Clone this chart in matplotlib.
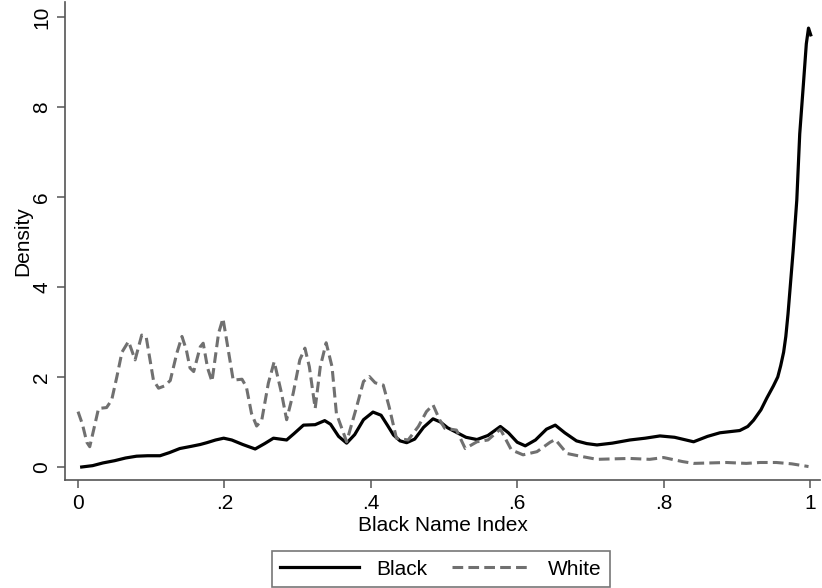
import matplotlib
matplotlib.use("Agg")
import matplotlib.pyplot as plt

plt.rcParams['font.family'] = ['Liberation Sans', 'DejaVu Sans']

# kernel density curves
black_x = [0.005, 0.02, 0.034, 0.05, 0.065, 0.08, 0.095, 0.112, 0.125, 0.139,
           0.155, 0.167, 0.176, 0.188, 0.199, 0.21, 0.225, 0.242, 0.255, 0.267,
           0.276, 0.285, 0.295, 0.308, 0.324, 0.337, 0.345, 0.356, 0.367, 0.378,
           0.39, 0.403, 0.414, 0.423, 0.431, 0.44, 0.449, 0.46, 0.472, 0.485,
           0.495, 0.505, 0.517, 0.53, 0.545, 0.56, 0.577, 0.588, 0.6, 0.611,
           0.625, 0.64, 0.652, 0.665, 0.681, 0.695, 0.709, 0.73, 0.754, 0.775,
           0.795, 0.815, 0.841, 0.86, 0.877, 0.904, 0.915, 0.923, 0.933, 0.941,
           0.95, 0.956, 0.960, 0.964, 0.967, 0.970, 0.973, 0.977, 0.982, 0.986,
           0.991, 0.995, 0.998, 1.001]
black_y = [0.0, 0.03, 0.09, 0.14, 0.2, 0.24, 0.25, 0.25, 0.32, 0.41,
           0.46, 0.5, 0.54, 0.6, 0.64, 0.6, 0.5, 0.4, 0.52, 0.64,
           0.62, 0.6, 0.74, 0.93, 0.94, 1.03, 0.95, 0.68, 0.53, 0.72,
           1.05, 1.22, 1.15, 0.92, 0.71, 0.58, 0.54, 0.62, 0.88, 1.07,
           1.0, 0.87, 0.77, 0.66, 0.61, 0.7, 0.9, 0.76, 0.55, 0.47,
           0.6, 0.84, 0.93, 0.76, 0.58, 0.52, 0.49, 0.53, 0.6, 0.64,
           0.69, 0.66, 0.56, 0.68, 0.76, 0.81, 0.9, 1.04, 1.27, 1.53,
           1.8, 2.0, 2.25, 2.55, 2.9, 3.4, 4.0, 4.8, 5.93, 7.4,
           8.5, 9.4, 9.75, 9.6]

white_x = [0.0, 0.006, 0.012, 0.016, 0.021, 0.028, 0.039, 0.046, 0.053, 0.060,
           0.069, 0.078, 0.087, 0.093, 0.103, 0.110, 0.118, 0.126, 0.135, 0.142,
           0.148, 0.153, 0.158, 0.167, 0.171, 0.177, 0.183, 0.192, 0.198, 0.203,
           0.212, 0.224, 0.230, 0.237, 0.244, 0.251, 0.260, 0.268, 0.278, 0.285,
           0.294, 0.303, 0.310, 0.316, 0.324, 0.331, 0.339, 0.347, 0.353, 0.367,
           0.38, 0.39, 0.398, 0.406, 0.417, 0.425, 0.435, 0.451, 0.465, 0.476,
           0.485, 0.494, 0.501, 0.517, 0.529, 0.545, 0.56, 0.577, 0.592, 0.608,
           0.627, 0.645, 0.652, 0.668, 0.686, 0.709, 0.73, 0.754, 0.781, 0.8,
           0.826, 0.841, 0.886, 0.913, 0.932, 0.954, 0.975, 0.998]
white_y = [1.23, 0.95, 0.55, 0.45, 0.8, 1.3, 1.32, 1.49, 2.0, 2.55,
           2.79, 2.38, 2.93, 2.9, 1.93, 1.75, 1.8, 1.92, 2.53, 2.9,
           2.6, 2.2, 2.12, 2.67, 2.75, 2.2, 1.9, 2.97, 3.3, 2.82,
           1.93, 1.95, 1.78, 1.19, 0.91, 1.04, 1.86, 2.34, 1.64, 1.05,
           1.64, 2.38, 2.64, 2.23, 1.3, 2.23, 2.76, 2.23, 1.19, 0.56,
           1.3, 1.9, 2.01, 1.87, 1.82, 1.34, 0.64, 0.6, 0.9, 1.23,
           1.38, 1.05, 0.86, 0.82, 0.41, 0.56, 0.6, 0.84, 0.38, 0.27,
           0.34, 0.55, 0.61, 0.3, 0.24, 0.17, 0.18, 0.19, 0.17, 0.21,
           0.12, 0.08, 0.1, 0.08, 0.1, 0.1, 0.07, 0.01]

x_ticks = [0, 0.2, 0.4, 0.6, 0.8, 1.0]
x_labels = ['0', '.2', '.4', '.6', '.8', '1']
y_ticks = [0, 2, 4, 6, 8, 10]

fig = plt.figure(figsize=(8.22, 5.88), dpi=100)
ax = fig.add_axes([65 / 822, 108 / 588, 755 / 822, 478 / 588])

ax.plot(black_x, black_y, color='black', lw=2.3, label='Black')
ax.plot(white_x, white_y, color='#707070', lw=2.2, dashes=(3.5, 1.7), label='White')

ax.set_xlim(-0.0178, 1.0137)
ax.set_ylim(-0.289, 10.33)
ax.set_xticks(x_ticks)
ax.set_xticklabels(x_labels)
ax.set_yticks(y_ticks)
for lab in ax.get_yticklabels():
    lab.set_rotation(90)
    lab.set_va('center')

ax.tick_params(direction='out', length=6, width=1.1, color='#555555',
               labelsize=15, pad=4)
for side in ['top', 'right']:
    ax.spines[side].set_visible(False)
for side in ['left', 'bottom']:
    ax.spines[side].set_color('#555555')
    ax.spines[side].set_linewidth(1.2)

ax.set_xlabel('Black Name Index', fontsize=15, labelpad=2)
ax.set_ylabel('Density', fontsize=15, labelpad=0)

leg = fig.legend(loc='lower center', bbox_to_anchor=(441 / 822, 1 / 588), ncol=2,
                 fontsize=15, handlelength=3.8, columnspacing=1.2,
                 fancybox=False, borderpad=0.4, handletextpad=0.8,
                 borderaxespad=0)
leg.get_frame().set_edgecolor('#555555')
leg.get_frame().set_linewidth(1.2)

fig.savefig('out.png', dpi=100)
